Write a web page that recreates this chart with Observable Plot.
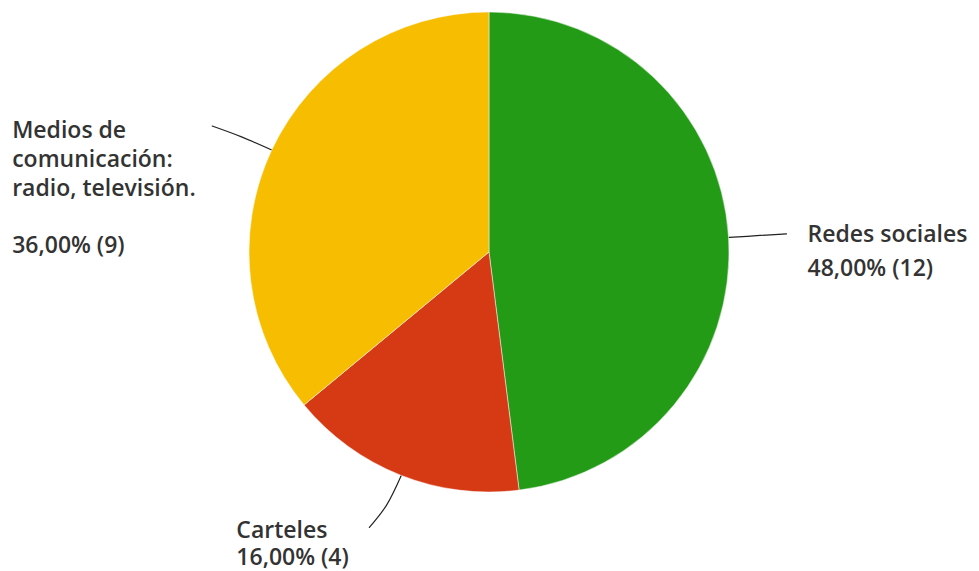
<!DOCTYPE html>
<html>
<head>
<meta charset="utf-8">
<script src="https://cdn.jsdelivr.net/npm/d3@7"></script>
<script src="https://cdn.jsdelivr.net/npm/@observablehq/plot@0.6"></script>
<style>
  html, body { margin: 0; padding: 0; background: #fff; }
  #chart svg { display: block; }
</style>
</head>
<body>
<div id="chart"></div>
<script>
// ---- Data ----
const categories = ["Redes sociales", "Carteles", "Medios de\ncomunicación:\nradio, televisión."];
const counts = [12, 4, 9];
const percentLabels = ["48,00% (12)", "16,00% (4)", "36,00% (9)"];
const colors = ["#239b17", "#d53a14", "#f7bd00"];

// ---- Layout ----
const W = 979, H = 571;
const cx = 489, cy = 252, R = 240;

const slices = categories.map((c, i) => ({name: c, count: counts[i], pct: percentLabels[i], color: colors[i]}));
const arcs = d3.pie().sort(null).value(d => d.count)(slices);
const mid = arcs.map(a => (a.startAngle + a.endAngle) / 2);

// leader line style per slice (angle tweak at end, in radians)
const leaderStyle = [
  {k1: 1.13, k2: 1.24, twist: 0.0},
  {k1: 1.14, k2: 1.25, twist: 0.035},
  {k1: 1.14, k2: 1.27, twist: -0.012}
];
const pt = (k, a) => ({x: k * Math.sin(a), y: k * Math.cos(a)});
const leaders = [];
slices.forEach((s, i) => {
  const a = mid[i], st = leaderStyle[i];
  leaders.push({name: s.name, ...pt(1.0, a)});
  leaders.push({name: s.name, ...pt(st.k1, a + st.twist * 0.3)});
  leaders.push({name: s.name, ...pt(st.k2, a + st.twist)});
});
const ends = slices.map((s, i) => ({...s, ...pt(leaderStyle[i].k2, mid[i] + leaderStyle[i].twist)}));

// text style per slice
const textStyle = [
  {dx: 21, dy: -15.5, lineHeight: 1.46},
  {dx: -133, dy: -8.5, lineHeight: 1.18},
  {dx: -200, dy: -8, lineHeight: 1.25}
];

const pieMark = (index, {x, y}) => {
  const r = x(1) - x(0);
  const g = d3.create("svg:g").attr("transform", `translate(${x(0)},${y(0)})`);
  g.selectAll("path")
    .data(arcs)
    .join("path")
    .attr("d", d3.arc().innerRadius(0).outerRadius(r))
    .attr("fill", d => d.data.color)
    .attr("stroke", "#ffffff")
    .attr("stroke-opacity", 0.6)
    .attr("stroke-width", 0.8);
  return g.node();
};

const textMarks = ends.map((e, i) => Plot.text([e], {
  x: "x", y: "y",
  text: d => d.name + (i === 2 ? "\n\n" : "\n") + d.pct,
  textAnchor: "start",
  lineAnchor: "top",
  dx: textStyle[i].dx,
  dy: textStyle[i].dy,
  lineHeight: textStyle[i].lineHeight,
  fill: "#333333",
  fontSize: 23,
  fontWeight: 600
}));

const chart = Plot.plot({
  width: W,
  height: H,
  margin: 0,
  style: {fontFamily: "'Open Sans', Roboto, sans-serif", background: "#fff"},
  x: {domain: [-cx / R, (W - cx) / R], axis: null},
  y: {domain: [-(H - cy) / R, cy / R], axis: null},
  marks: [
    Plot.line(leaders, {x: "x", y: "y", z: "name", curve: "catmull-rom", stroke: "#222", strokeWidth: 1.2}),
    pieMark,
    ...textMarks
  ]
});
document.getElementById("chart").append(chart);
</script>
</body>
</html>
